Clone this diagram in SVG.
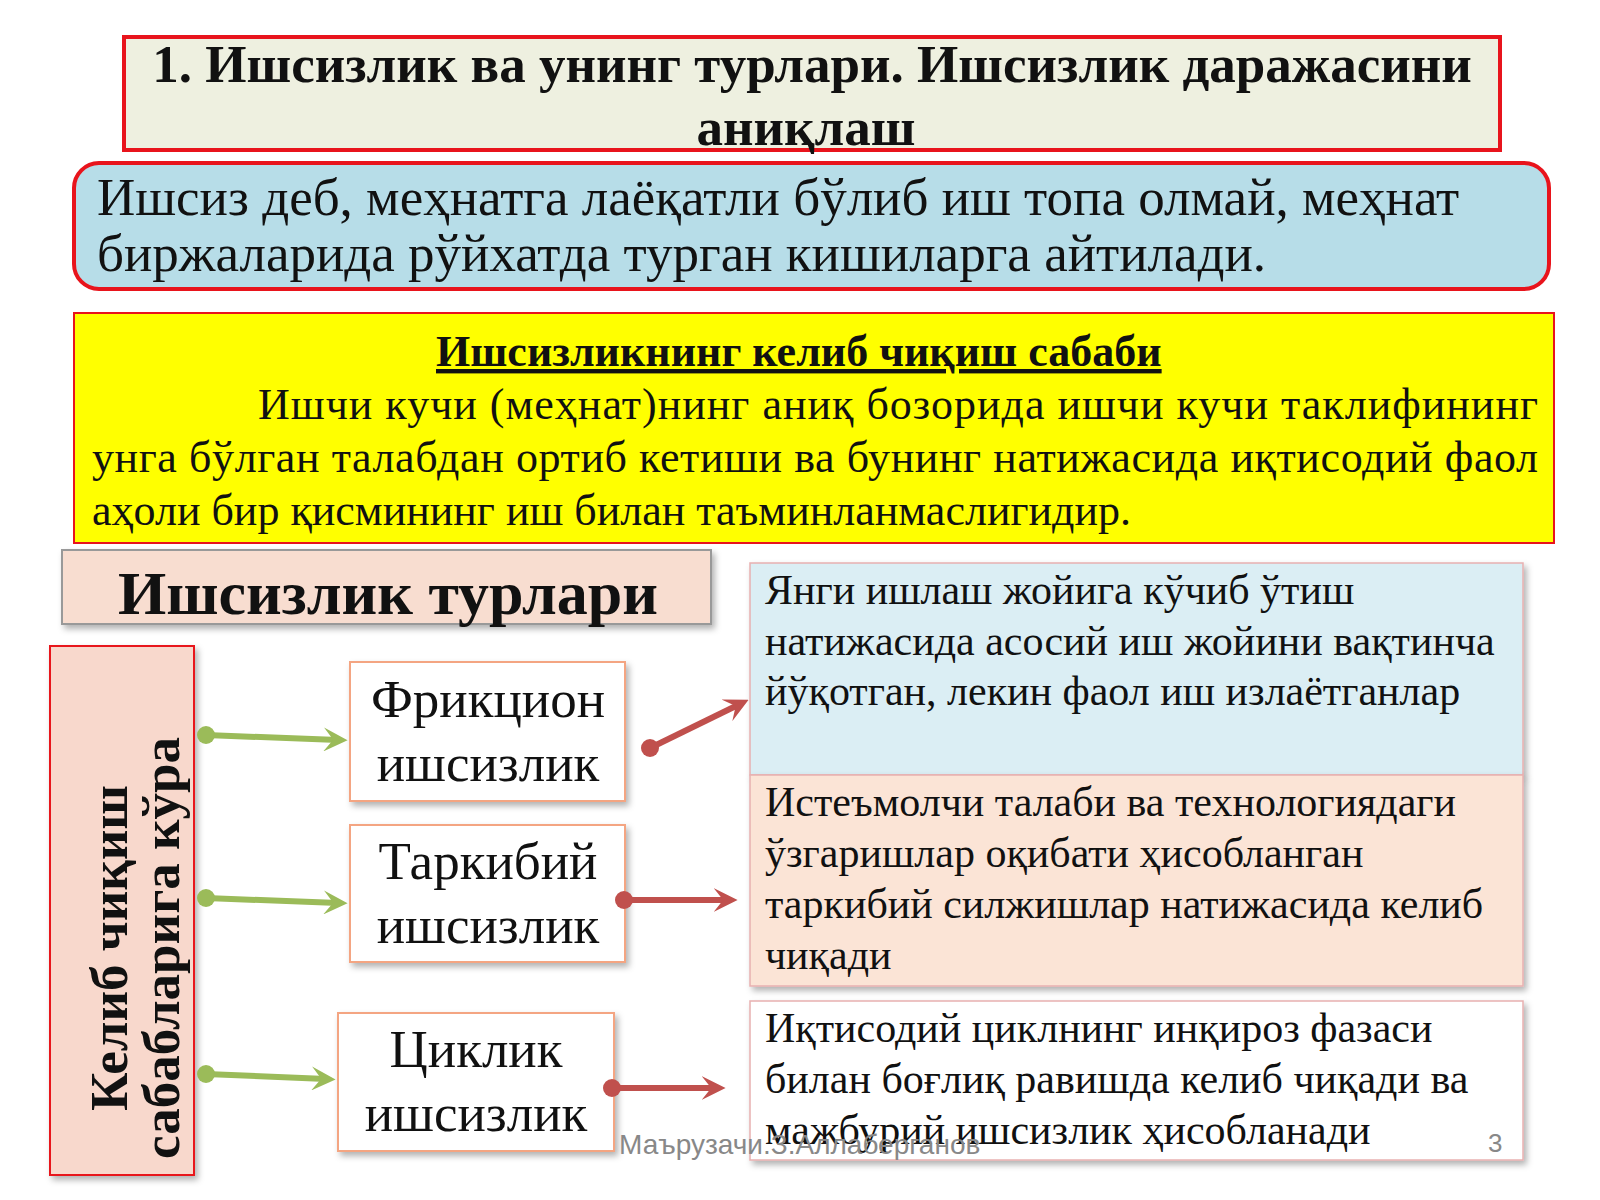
<svg xmlns="http://www.w3.org/2000/svg" width="1600" height="1200" viewBox="0 0 1600 1200">
<defs>
<filter id="sh" x="-10%" y="-10%" width="130%" height="130%"><feDropShadow dx="3" dy="4" stdDeviation="3" flood-color="#000" flood-opacity="0.3"/></filter>
<marker id="ga" viewBox="0 0 10 10" refX="6" refY="5" markerWidth="4" markerHeight="4" orient="auto"><path d="M0,0 L10,5 L0,10 L4,5 Z" fill="#9bbb59"/></marker>
<marker id="gd" viewBox="0 0 10 10" refX="5" refY="5" markerWidth="3" markerHeight="3"><circle cx="5" cy="5" r="5" fill="#9bbb59"/></marker>
<marker id="ra" viewBox="0 0 10 10" refX="6" refY="5" markerWidth="4" markerHeight="4" orient="auto"><path d="M0,0 L10,5 L0,10 L4,5 Z" fill="#c0504d"/></marker>
<marker id="rd" viewBox="0 0 10 10" refX="5" refY="5" markerWidth="3" markerHeight="3"><circle cx="5" cy="5" r="5" fill="#c0504d"/></marker>
</defs>
<style>
text{font-family:"Liberation Serif","DejaVu Serif",serif;fill:#111}
.b{font-weight:bold}
.t{font-size:53px;text-anchor:middle}
.r{font-size:42px}
.type{fill:#fff;stroke:#f4a582;stroke-width:2}
.g{stroke:#9bbb59;stroke-width:6;fill:none;marker-start:url(#gd);marker-end:url(#ga)}
.rr{stroke:#c0504d;stroke-width:6;fill:none;marker-start:url(#rd);marker-end:url(#ra)}
</style>
<rect width="1600" height="1200" fill="#fff"/>
<g id="title">
<rect x="124" y="37" width="1376" height="113" fill="#eef0e0" stroke="#e8141c" stroke-width="4"/>
<text class="b" x="812" y="82" font-size="53" text-anchor="middle">1. Ишсизлик ва унинг турлари. Ишсизлик даражасини</text>
<text class="b" x="806" y="145" font-size="53" text-anchor="middle">аниқлаш</text>
</g>
<g id="definition">
<rect x="74" y="163" width="1475" height="126" rx="25" fill="#b7dde8" stroke="#e8141c" stroke-width="4"/>
<text x="97" y="215" font-size="53">Ишсиз деб, меҳнатга лаёқатли бўлиб иш топа олмай, меҳнат</text>
<text x="97" y="271" font-size="53">биржаларида рўйхатда турган кишиларга айтилади.</text>
</g>
<g id="cause">
<rect x="74" y="313" width="1480" height="230" fill="#ffff00" stroke="#e8141c" stroke-width="2"/>
<text class="b" x="436" y="366" font-size="44" text-decoration="underline">Ишсизликнинг келиб чиқиш сабаби  </text>
<text x="258" y="419" font-size="44" textLength="1280" lengthAdjust="spacing">Ишчи кучи (меҳнат)нинг аниқ бозорида ишчи кучи таклифининг</text>
<text x="92" y="472" font-size="44" textLength="1446" lengthAdjust="spacing">унга бўлган талабдан ортиб кетиши ва бунинг натижасида иқтисодий фаол</text>
<text x="92" y="525" font-size="44">аҳоли бир қисмининг иш билан таъминланмаслигидир.</text>
</g>
<g id="types-header">
<rect x="62" y="550" width="649" height="74" fill="#f8ddd0" stroke="#999" stroke-width="2" filter="url(#sh)"/>
<text class="b" x="388" y="614" font-size="62" text-anchor="middle">Ишсизлик турлари</text>
</g>
<g id="origin">
<rect x="50" y="646" width="144" height="529" fill="#f8d8cc" stroke="#e8141c" stroke-width="2" filter="url(#sh)"/>
<text class="b" transform="translate(127,948) rotate(-90)" font-size="53" text-anchor="middle">Келиб чиқиш</text>
<text class="b" transform="translate(179,948) rotate(-90)" font-size="53" text-anchor="middle">сабабларига кўра</text>
</g>
<g id="frictional">
<rect class="type" x="350" y="662" width="275" height="139" filter="url(#sh)"/>
<text class="t" x="488" y="717">Фрикцион</text>
<text class="t" x="488" y="781">ишсизлик</text>
</g>
<g id="structural">
<rect class="type" x="350" y="825" width="275" height="137" filter="url(#sh)"/>
<text class="t" x="488" y="879">Таркибий</text>
<text class="t" x="488" y="943">ишсизлик</text>
</g>
<g id="cyclical">
<rect class="type" x="338" y="1013" width="276" height="138" filter="url(#sh)"/>
<text class="t" x="476" y="1067">Циклик</text>
<text class="t" x="476" y="1131">ишсизлик</text>
</g>
<g id="desc1">
<rect x="750" y="563" width="773" height="212" fill="#dbeef4" stroke="#e8b0b0" stroke-width="1.5" filter="url(#sh)"/>
<text class="r" x="765" y="604">Янги ишлаш жойига кўчиб ўтиш</text>
<text class="r" x="765" y="655">натижасида асосий иш жойини вақтинча</text>
<text class="r" x="765" y="705">йўқотган, лекин фаол иш излаётганлар</text>
</g>
<g id="desc2">
<rect x="750" y="775" width="773" height="211" fill="#fbe4d6" stroke="#e8b0b0" stroke-width="1.5" filter="url(#sh)"/>
<text class="r" x="765" y="816">Истеъмолчи талаби ва технологиядаги</text>
<text class="r" x="765" y="867">ўзгаришлар оқибати ҳисобланган</text>
<text class="r" x="765" y="918">таркибий силжишлар натижасида келиб</text>
<text class="r" x="765" y="969">чиқади</text>
</g>
<g id="desc3">
<rect x="750" y="1001" width="773" height="159" fill="#fff" stroke="#e8b0b0" stroke-width="1.5" filter="url(#sh)"/>
<text class="r" x="765" y="1042">Иқтисодий циклнинг инқироз фазаси</text>
<text class="r" x="765" y="1093">билан боғлиқ равишда келиб чиқади ва</text>
<text class="r" x="765" y="1144">мажбурий ишсизлик ҳисобланади</text>
</g>
<g id="connectors">
<path class="g" d="M206,735 L338,740"/>
<path class="g" d="M206,898 L338,903"/>
<path class="g" d="M206,1074 L326,1079"/>
<path class="rr" d="M650,748 L740,704"/>
<path class="rr" d="M624,900 L728,900"/>
<path class="rr" d="M612,1088 L716,1088"/>
</g>
<g id="footer">
<text x="619" y="1154" font-size="28" style="font-family:'Liberation Sans',sans-serif;fill:#888">Маърузачи.З.Аллаберганов</text>
<text x="1488" y="1152" font-size="26" style="font-family:'Liberation Sans',sans-serif;fill:#888">3</text>
</g>
</svg>
